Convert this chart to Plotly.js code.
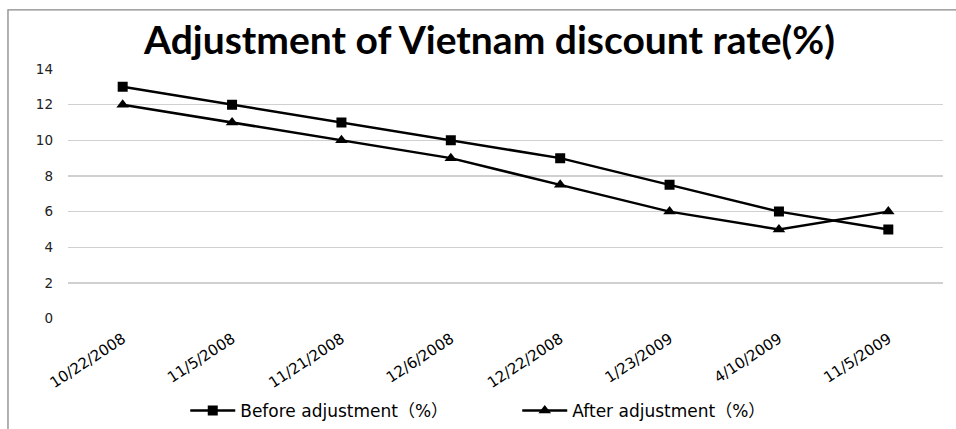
<!DOCTYPE html>
<html>
<head>
<meta charset="utf-8">
<script src="https://cdn.plot.ly/plotly-3.0.1.min.js"></script>
<style>html,body{margin:0;padding:0;background:#fff;}#chart{width:956px;height:429px;}</style>
</head>
<body>
<div id="chart"></div>
<script>
const categories = ["10/22/2008","11/5/2008","11/21/2008","12/6/2008","12/22/2008","1/23/2009","4/10/2009","11/5/2009"];
const beforeValues = [13, 12, 11, 10, 9, 7.5, 6, 5];
const afterValues = [12, 11, 10, 9, 7.5, 6, 5, 6];
const seriesNames = ["Before adjustment（%）", "After adjustment（%）"];
const yTicks = [0, 2, 4, 6, 8, 10, 12, 14];

const traces = [
  {x: categories, y: beforeValues, name: seriesNames[0], type: 'scatter', mode: 'lines+markers',
   line: {color: '#000', width: 2.5}, marker: {symbol: 'square', size: 10, color: '#000'}},
  {x: categories, y: afterValues, name: seriesNames[1], type: 'scatter', mode: 'lines+markers',
   line: {color: '#000', width: 2.5}, marker: {symbol: 'triangle-up', size: 11, color: '#000'}}
];

// paper area: x 68..943, y 69..429 (height 360); plot bottom at y=320
const layout = {
  width: 956, height: 429,
  margin: {l: 68, r: 13, t: 69, b: 0, pad: 0},
  paper_bgcolor: '#fff', plot_bgcolor: '#fff',
  showlegend: true,
  title: {text: '<b>Adjustment of Vietnam discount rate(%)</b>', x: 0.512, xanchor: 'center', y: 0.905, yanchor: 'middle',
          font: {family: 'Lato, "Open Sans", sans-serif', size: 39, color: '#000'}},
  xaxis: {type: 'category', tickangle: -33, showgrid: false, zeroline: false, showline: false, ticks: '', automargin: false,
          ticklabelstandoff: 8,
          tickfont: {family: '"DejaVu Sans", sans-serif', size: 15, color: '#000'}, range: [-0.5, 7.5]},
  yaxis: {domain: [0.297, 1], range: [0, 14], tickvals: yTicks, ticktext: yTicks.map(String), showgrid: true, gridcolor: '#d0d0d0', gridwidth: 1.3,
          zeroline: false, showline: false, ticks: '', ticklabelstandoff: 14, automargin: false,
          tickfont: {family: '"DejaVu Sans", sans-serif', size: 13.5, color: '#222'}},
  legend: {orientation: 'h', x: 0.134, xanchor: 'left', y: 0.036, yanchor: 'middle',
           entrywidth: 272, entrywidthmode: 'pixels',
           font: {family: '"DejaVu Sans", "Noto Sans CJK SC", sans-serif', size: 17, color: '#000'}, itemwidth: 45, tracegroupgap: 0},
  shapes: [{type: 'rect', xref: 'paper', yref: 'paper', x0: -0.0686, x1: 1.03, y0: -0.02, y1: 1.1667,
            line: {color: '#888', width: 1.3}, fillcolor: 'rgba(0,0,0,0)', layer: 'below'}]
};

Plotly.newPlot('chart', traces, layout, {displayModeBar: false, staticPlot: true});
</script>
</body>
</html>
